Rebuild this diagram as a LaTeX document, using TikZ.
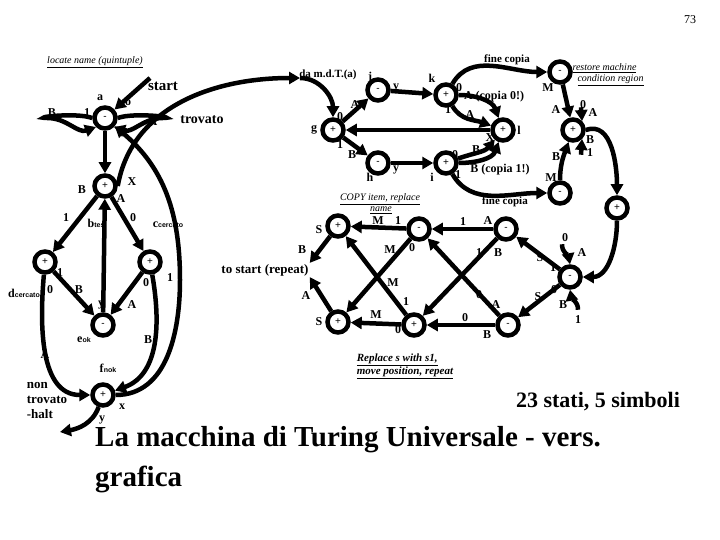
\documentclass[tikz,border=0pt]{standalone}
\usepackage{fontspec}
\setmainfont{Liberation Serif}
\setsansfont{Liberation Sans}
\usetikzlibrary{arrows.meta}
\begin{document}
\begin{tikzpicture}[x=1pt,y=-1pt,
 st/.style={circle,draw,line width=4.5pt,minimum size=21pt,inner sep=0pt,font=\sffamily\normalsize},
 ed/.style={line width=4.5pt,-{Triangle[length=11pt,width=12pt]}},
 lb/.style={font=\bfseries\fontsize{12}{13}\selectfont,inner sep=1pt},
 ul/.style={font=\itshape\fontsize{10}{11}\selectfont,inner sep=1pt,align=left}]
\useasboundingbox (0,0) rectangle (720,540);
\node[font=\fontsize{12}{13}\selectfont] (pg) at (690,20) {73};
% states
\node[st] (a) at (105,118) {-};
\node[st] (b) at (105,186) {+};
\node[st] (c) at (45,262) {+};
\node[st] (d) at (150,262) {+};
\node[st] (e) at (103,325) {-};
\node[st] (f) at (103,395) {+};
\node[st] (g) at (333,130) {+};
\node[st] (j) at (378,90) {-};
\node[st] (h) at (378,163) {-};
\node[st] (k) at (446,95) {+};
\node[st] (l) at (503,130) {+};
\node[st] (i) at (446,163) {+};
\node[st] (rt) at (560,72) {-};
\node[st] (rb) at (560,193) {-};
\node[st] (rp) at (573,130) {+};
\node[st] (rq) at (617,208) {+};
\node[st] (rm) at (570,277) {-};
\node[st] (tr) at (506,229) {-};
\node[st] (br) at (508,325) {-};
\node[st] (tm) at (419,229) {-};
\node[st] (bm) at (414,325) {+};
\node[st] (st1) at (338,226) {+};
\node[st] (sb1) at (338,322) {+};
% text nodes
\node[ul] (t1) at (95,62) {\underline{locate name (quintuple)}};
\node[lb,font=\bfseries\fontsize{15}{16}\selectfont] (tstart) at (163,86) {start};
\coordinate (s0) at (150,78);
\node[lb,font=\bfseries\fontsize{14}{15}\selectfont] (ttrov) at (202,120) {trovato};
\node[lb,font=\bfseries\fontsize{11}{12}\selectfont] (tda) at (328,75) {da m.d.T.(a)};
\node[lb,font=\bfseries\fontsize{13}{15}\selectfont,align=left] (tnon) at (47,400) {non\\trovato\\-halt};
\coordinate (nh) at (60,432);
\node[lb,font=\bfseries\fontsize{13}{14}\selectfont] (tts) at (265,270) {to start (repeat)};
\node[lb,font=\bfseries\fontsize{11}{12}\selectfont] (fc1) at (507,60) {fine copia};
\node[lb,font=\bfseries\fontsize{11}{12}\selectfont] (fc2) at (505,202) {fine copia};
\node[ul] (trs) at (608,75) {\underline{restore machine}\\\ \ \underline{condition region}};
\node[ul] (tcp) at (380,204) {\underline{COPY item, replace}\\\ \ \ \ \ \ \ \ \ \ \ \ \underline{name}};
\node[lb,font=\bfseries\itshape\fontsize{11}{13}\selectfont,align=left] (trp) at (405,366) {\underline{Replace s with s1,}\\\underline{move position, repeat}};
\node[font=\bfseries\fontsize{22}{24}\selectfont] (t23) at (598,402) {23 stati, 5 simboli};
\node[font=\bfseries\fontsize{29}{40}\selectfont,align=left,anchor=north west,inner sep=0pt] (ttl) at (95,426) {La macchina di Turing Universale - vers.\\grafica};
% edges left
\draw[ed] (s0) -- (a);
\draw[ed] (a.west) to[out=160,in=180,looseness=1] ++(-45,0) to[out=0,in=200] (a.south west);
\draw[ed] (a.east) to[out=20,in=0,looseness=1] ++(45,0) to[out=180,in=-20] (a.south east);
\draw[ed] (a) -- (b);
\draw[ed] (b) -- (c);
\draw[ed] (b) -- (d);
\draw[ed] (e) -- (b);
\draw[ed] (c) -- (e);
\draw[ed] (d) -- (e);
\draw[ed] (c) to[out=-95,in=180] (f);
\draw[ed] (d) to[out=-80,in=20] (f);
\draw[ed] (f.east) to[out=0,in=-90] (180,280) to[out=90,in=-40] (a);
\draw[ed] (f) to[out=-110,in=10] (nh);
\coordinate (dm) at (300,78);
\draw[ed] (b.east) to[out=80,in=180] (dm);
\draw[ed] (dm) to[out=0,in=90] (g);
% copy part
\draw[ed] (g) -- (j);
\draw[ed] (g) -- (h);
\draw[ed] (j) -- (k);
\draw[ed] (h) -- (i);
\draw[ed] (l) -- (g);
\draw[ed] (k) to[out=0,in=110] (l);
\draw[ed] (k) to[out=-60,in=160] (l);
\draw[ed] (i) to[out=20,in=-130] (l);
\draw[ed] (i) to[out=0,in=-110] (l);
\draw[ed] (k) to[out=60,in=180] (rt);
\draw[ed] (i) to[out=-60,in=180] (rb);
\draw[ed] (rt) -- (rp);
\draw[ed] (rb) to[out=90,in=-110] (rp);
\draw[ed] (rp.east) to[out=20,in=90] (rq);
\draw[ed] (rp.north) ++(8,-10) -- (rp.north east);
\draw[ed] (rp.south) ++(8,12) -- (rp.south east);
\draw[ed] (rq) to[out=-90,in=0] (rm);
% replace part
\draw[ed] (rm.north) ++(-8,-20) to[out=-90,in=100] (rm.north);
\draw[ed] (rm.south) ++(8,20) to[out=90,in=-80] (rm.south);
\draw[ed] (rm) -- (tr);
\draw[ed] (rm) -- (br);
\draw[ed] (tr) -- (tm);
\draw[ed] (tr) -- (bm);
\draw[ed] (br) -- (bm);
\draw[ed] (br) -- (tm);
\draw[ed] (tm) -- (st1);
\draw[ed] (tm) -- (sb1);
\draw[ed] (bm) -- (st1);
\draw[ed] (bm) -- (sb1);
\draw[ed] (st1) -- (tts.north east);
\draw[ed] (sb1) -- (tts.south east);
% labels
\begin{scope}[every node/.style={lb}]
\node at (100,98) {a}; \node at (128,103) {o};
\node at (52,113) {B}; \node at (87,113) {1}; \node at (153,122) {A};
\node at (82,190) {B}; \node at (132,182) {X}; \node at (121,199) {A};
\node at (66,218) {1}; \node at (96,223) {b\textsf{\scriptsize tes}};
\node at (133,218) {0}; \node at (168,225) {c\textsf{\scriptsize cercato}};
\node at (60,273) {1}; \node at (50,290) {0}; \node at (24,293) {d\textsf{\scriptsize cercato}};
\node at (79,290) {B}; \node at (101,305) {y};
\node at (146,283) {0}; \node at (170,278) {1}; \node at (132,305) {A};
\node at (84,340) {e\textsf{\scriptsize ok}}; \node at (148,340) {B};
\node at (45,355) {A}; \node at (108,368) {f\textsf{\scriptsize nok}};
\node at (122,407) {x}; \node at (102,420) {y};
\node at (314,130) {g}; \node at (370,78) {j}; \node at (432,78) {k};
\node at (340,117) {0}; \node at (355,105) {A};
\node at (340,145) {1}; \node at (352,155) {B};
\node at (396,88) {y}; \node at (396,170) {y};
\node at (370,177) {h}; \node at (432,177) {i};
\node at (459,88) {0}; \node at (494,97) {A (copia 0!)};
\node at (448,110) {1}; \node at (470,115) {A};
\node at (490,138) {X}; \node at (519,130) {l};
\node at (455,155) {0}; \node at (476,150) {B};
\node at (458,175) {1}; \node at (500,170) {B (copia 1!)};
\node at (548,88) {M}; \node at (556,110) {A};
\node at (551,178) {M}; \node at (556,157) {B};
\node at (583,105) {0}; \node at (593,113) {A}; \node at (590,140) {B}; \node at (590,153) {1};
\node at (565,238) {0}; \node at (582,253) {A}; \node at (553,268) {1}; \node at (540,258) {S};
\node at (554,290) {0}; \node at (538,297) {S}; \node at (563,305) {B}; \node at (578,320) {1};
\node at (488,221) {A}; \node at (463,222) {1};
\node at (479,253) {1}; \node at (498,253) {B};
\node at (479,295) {0}; \node at (496,305) {A}; \node at (487,335) {B}; \node at (465,318) {0};
\node at (378,221) {M}; \node at (398,221) {1}; \node at (390,250) {M}; \node at (412,248) {0};
\node at (393,283) {M}; \node at (406,302) {1}; \node at (376,315) {M}; \node at (398,330) {0};
\node at (319,230) {S}; \node at (302,250) {B};
\node at (319,322) {S}; \node at (306,296) {A};
\end{scope}
\end{tikzpicture}
\end{document}
